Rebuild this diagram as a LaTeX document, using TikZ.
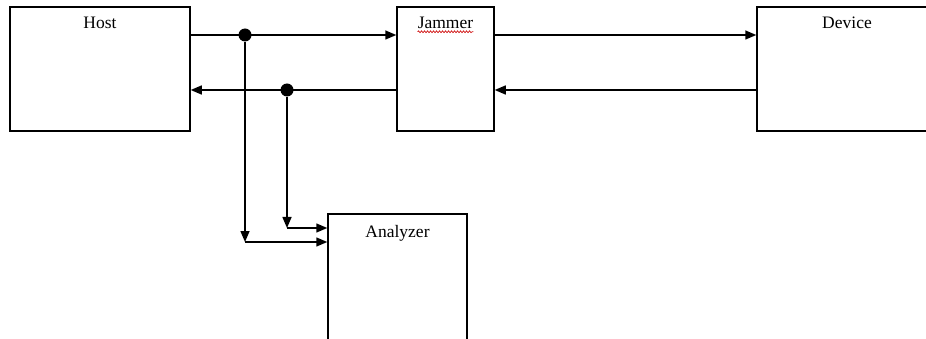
\documentclass[tikz,border=0pt]{standalone}
\usepackage{fontspec}
\setmainfont{Liberation Serif}
\usetikzlibrary{arrows.meta,decorations.pathmorphing}
\tikzset{
  blockbox/.style={draw, line width=1.5pt, minimum width=#1, inner sep=0pt},
  flow/.style={line width=1.5pt, -{Triangle[length=11pt,width=9pt]}},
  junction/.style={circle, fill=black, inner sep=0pt, minimum size=13pt},
  boxtext/.style={anchor=base, inner sep=0pt, font=\fontsize{17.5}{20}\selectfont}
}
\begin{document}
\begin{tikzpicture}[x=1pt,y=-1pt]
\useasboundingbox (0,0) rectangle (926,339);
\clip (0,0) rectangle (926,339);
\node[blockbox=180pt, minimum height=124pt, label={[boxtext, name=hosttext, yshift=-22pt]north:Host}] (host) at (100,69) {};
\node[blockbox=97pt, minimum height=124pt, label={[boxtext, name=jammertext, yshift=-22pt]north:Jammer}] (jammer) at (445.5,69) {};
\node[blockbox=180pt, minimum height=124pt, label={[boxtext, name=devicetext, yshift=-22pt]north:Device}] (device) at (847,69) {};
\node[blockbox=139pt, minimum height=136pt, label={[boxtext, name=analyzertext, yshift=-24pt]north:Analyzer}] (analyzer) at (397.5,282) {};
\draw[red!80!black, line width=0.6pt, decorate, decoration={snake, amplitude=1pt, segment length=3pt}]
  ([yshift=-3.5pt]jammertext.base west) -- ([yshift=-3.5pt]jammertext.base east);
\node[junction] (j1) at (245,35) {};
\node[junction] (j2) at (287,90) {};
\coordinate (c1) at (245,242);
\coordinate (c2) at (287,228);
\draw[flow] (host.east |- j1) -- (jammer.west |- j1);
\draw[flow] (jammer.east |- j1) -- (device.west |- j1);
\draw[flow] (device.west |- j2) -- (jammer.east |- j2);
\draw[flow] (jammer.west |- j2) -- (host.east |- j2);
\draw[flow] (j1) -- (c1);
\draw[flow] (c1) -- (c1 -| analyzer.west);
\draw[flow] (j2) -- (c2);
\draw[flow] (c2) -- (c2 -| analyzer.west);
\end{tikzpicture}
\end{document}
